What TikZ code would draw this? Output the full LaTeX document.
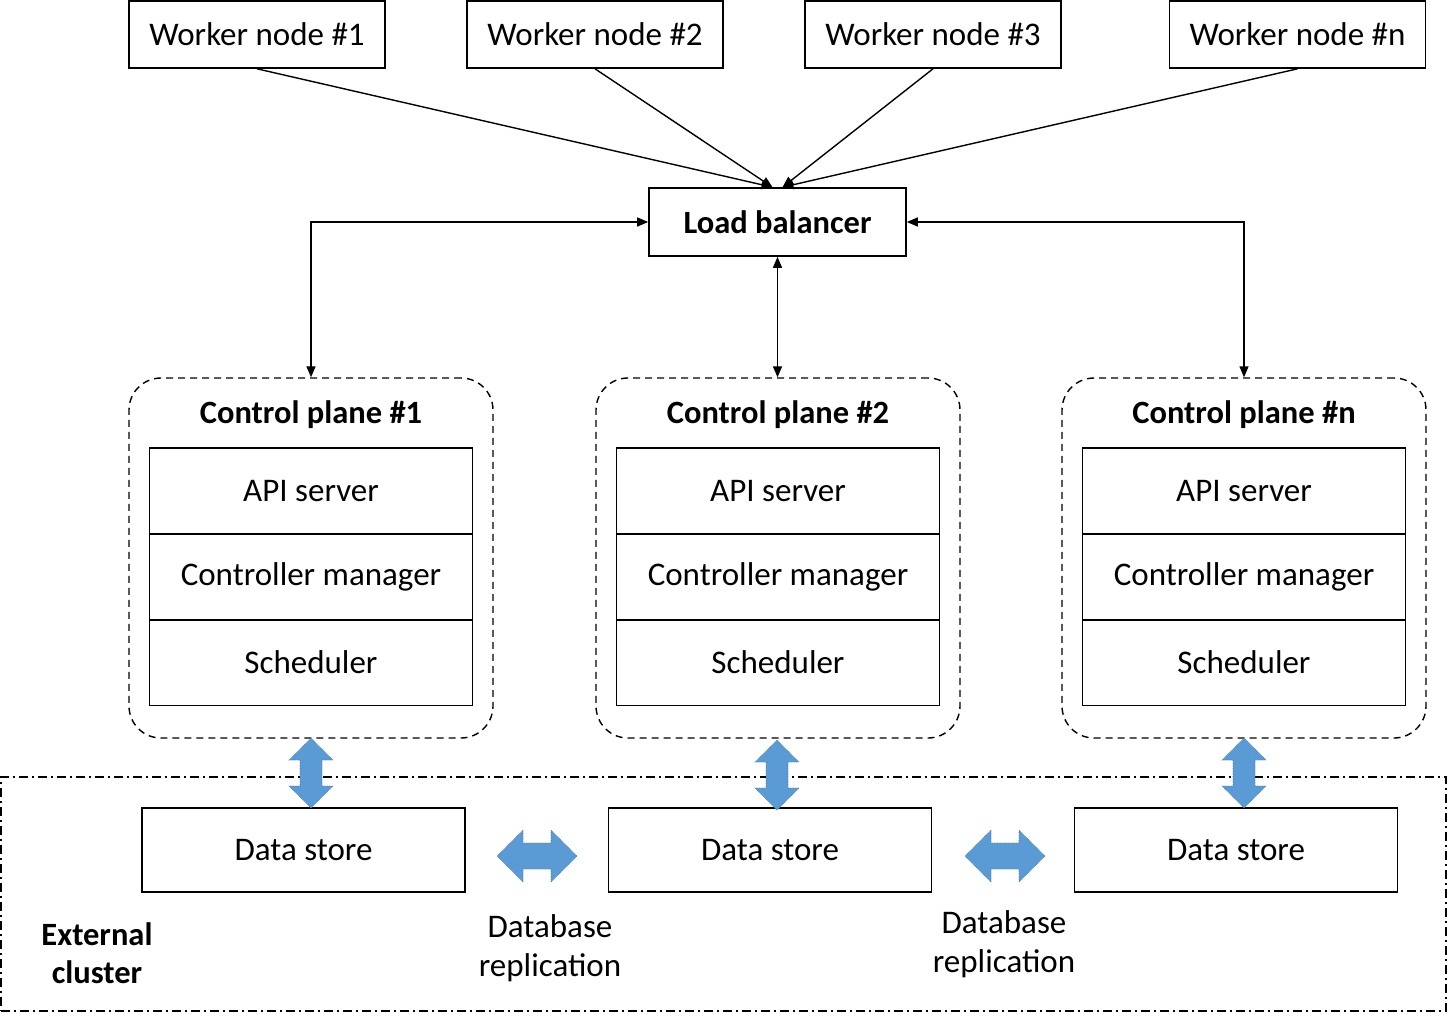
\documentclass[tikz,border=0pt]{standalone}
\usepackage{fontspec}
\setmainfont{Carlito}
\usetikzlibrary{arrows.meta,calc}
\definecolor{fatblue}{RGB}{91,155,213}
\definecolor{fatedge}{RGB}{70,120,170}
\begin{document}
\begin{tikzpicture}[x=1pt,y=-1pt,
  txt/.style={font=\fontsize{33}{38.5}\selectfont},
  btxt/.style={font=\fontsize{32.5}{38.5}\selectfont\bfseries},
  box/.style={draw, line width=1.6pt, inner sep=0pt, txt},
  wbox/.style={box, minimum width=256pt, minimum height=67pt},
  ibox/.style={box, minimum width=323pt, minimum height=86pt},
  dbox/.style={box, minimum width=323pt, minimum height=84pt},
  cpbox/.style={draw, line width=1.4pt, dash pattern=on 7pt off 5pt, rounded corners=32pt, minimum width=364pt, minimum height=360pt, inner sep=0pt},
  extbox/.style={draw, line width=1.4pt, dash pattern=on 9pt off 4pt on 2pt off 4pt, minimum width=1445pt, minimum height=234pt, inner sep=0pt},
  conn/.style={line width=1.4pt, -{Triangle[length=11pt,width=9pt]}},
  dconn/.style={line width=1.4pt, {Triangle[length=11pt,width=9pt]}-{Triangle[length=11pt,width=9pt]}},
  fat/.style={fill=fatblue, draw=fatedge, line width=0.6pt, densely dotted},
  vfat/.pic={\path[fat] (0,-35) -- (22,-13) -- (11,-13) -- (11,13) -- (22,13) -- (0,35) -- (-22,13) -- (-11,13) -- (-11,-13) -- (-22,-13) -- cycle;},
  hfat/.pic={\path[fat] (-40,0) -- (-14,-26) -- (-14,-13) -- (14,-13) -- (14,-26) -- (40,0) -- (14,26) -- (14,13) -- (-14,13) -- (-14,26) -- cycle;}
]
\useasboundingbox (0,0) rectangle (1448,1013);

% worker nodes
\node[wbox] (w1) at (257,34.5) {Worker node \#1};
\node[wbox] (w2) at (595,34.5) {Worker node \#2};
\node[wbox] (w3) at (933,34.5) {Worker node \#3};
\node[wbox] (wn) at (1297.5,34.5) {Worker node \#n};

% load balancer
\node[box, btxt, minimum width=257pt, minimum height=68pt] (lb) at (777.5,222) {Load balancer};
\coordinate (lbl) at ($(lb.north)+(-5,0)$);
\coordinate (lbr) at ($(lb.north)+(5,0)$);

\draw[conn] (w1.south) -- (lbl);
\draw[conn] (w2.south) -- (lbl);
\draw[conn] (w3.south) -- (lbr);
\draw[conn] (wn.south) -- (lbr);

% control planes
\foreach \i/\x/\t in {1/311/Control plane \#1, 2/778/Control plane \#2, n/1244/Control plane \#n}{
  \node[cpbox] (cp\i) at (\x,558) {};
  \node[btxt] (cpt\i) at (\x,415) {\t};
  \node[ibox] (api\i) at (\x,491) {API server};
  \node[ibox] (cm\i) at (\x,577) {Controller manager};
  \node[ibox] (sch\i) at (\x,662.5) {Scheduler};
}

\draw[dconn] (cp1.north) |- (lb.west);
\draw[dconn] (cpn.north) |- (lb.east);
\draw[dconn] (lb.south) -- (lb.south |- cp2.north);

% external cluster
\node[extbox] (ext) at (723.5,894) {};
\node[dbox] (ds1) at (303.5,850) {Data store};
\node[dbox] (ds2) at (770,850) {Data store};
\node[dbox] (dsn) at (1236,850) {Data store};

\node[btxt, align=center] (extl) at (97,953) {External\\cluster};
\node[txt, align=center] (rep1) at (550,948) {Database\\replication};
\node[txt, align=center] (rep2) at (1004,944) {Database\\replication};

% fat arrows
\pic at (311,773) {vfat};
\pic at (777,775) {vfat};
\pic at (1244,773) {vfat};
\pic at (537,856) {hfat};
\pic at (1005,856) {hfat};
\end{tikzpicture}
\end{document}
